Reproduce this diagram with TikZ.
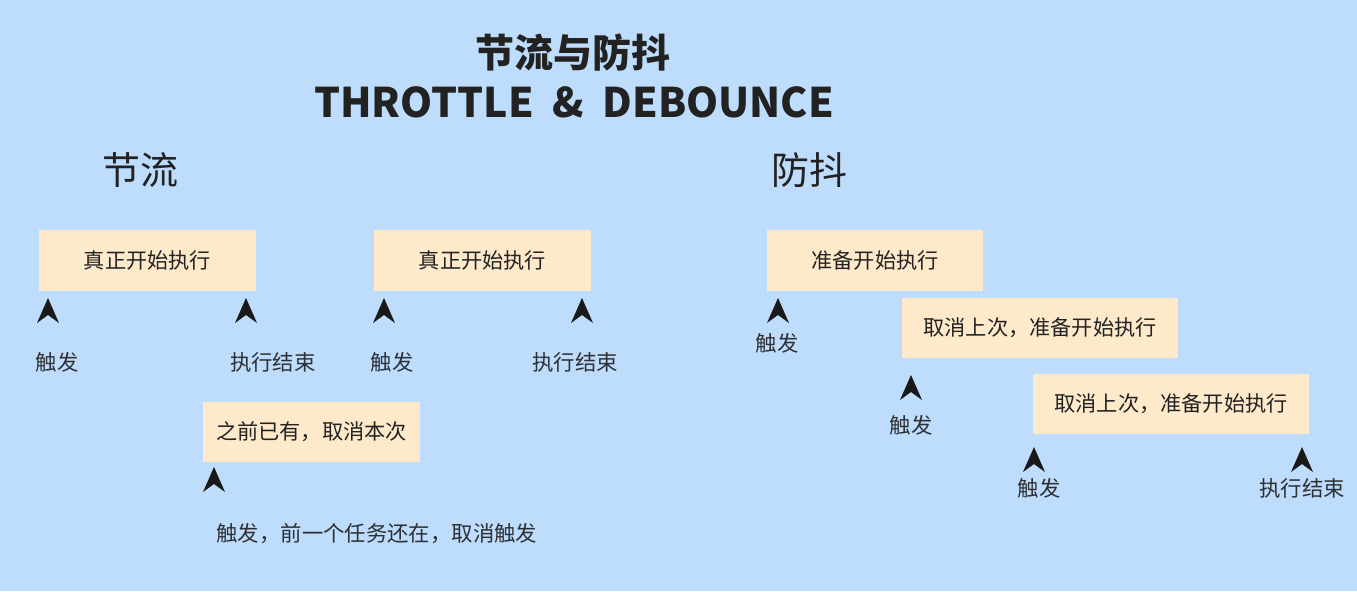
\documentclass[tikz,border=0pt]{standalone}
\usepackage{fontspec}
\setmainfont{Noto Sans CJK SC}
\usepackage{tikz}
\usetikzlibrary{calc}
\definecolor{bgblue}{RGB}{190,220,252}
\definecolor{boxpeach}{RGB}{255,233,203}
\definecolor{txtdark}{RGB}{34,34,34}
\definecolor{lbldark}{RGB}{45,48,52}

\tikzset{
  trig/.pic={\fill[black!90] (0,0) -- (11,25) -- (0,17) -- (-11,25) -- cycle;}
}

\begin{document}
\begin{tikzpicture}[
  x=0.5pt, y=-0.5pt,
  box/.style={fill=boxpeach, inner sep=0pt, minimum height=30.5pt, text=txtdark,
    font=\fontsize{10.6pt}{12pt}\selectfont},
  lbl/.style={inner sep=0pt, text=lbldark, font=\fontsize{10.7pt}{12pt}\selectfont},
  head/.style={inner sep=0pt, text=txtdark, font=\fontsize{19pt}{22pt}\selectfont}
]
% background, fixes the page size
\fill[bgblue] (0,0) rectangle (1357,591);

%========== title ==========
\node[inner sep=0pt, text=txtdark, font=\fontsize{19.5pt}{22pt}\selectfont\bfseries] (title) at (573,52) {节流与防抖};
\node[inner sep=0pt, text=txtdark, font=\fontsize{20.4pt}{24pt}\selectfont\bfseries] (subtitle) at (574,102) {THROTTLE\ \ \&\ \ DEBOUNCE};

%========== throttle ==========
\node[head] (thead) at (140,170) {节流};
\node[box, minimum width=108.5pt] (tbox1) at (147.5,260.5) {真正开始执行};
\node[box, minimum width=108.5pt] (tbox2) at (482.5,260.5) {真正开始执行};
\node[box, minimum width=108.5pt, minimum height=30pt] (tbox3) at (311.5,432) {之前已有，取消本次};
\pic at (48,298) {trig};
\pic at (246,298) {trig};
\pic at (384,298) {trig};
\pic at (582,298) {trig};
\pic at (214,467) {trig};
\node[lbl] (tl1) at (57,362) {触发};
\node[lbl] (tl2) at (273,362) {执行结束};
\node[lbl] (tl3) at (392,362) {触发};
\node[lbl] (tl4) at (575,362) {执行结束};
\node[lbl, anchor=west] (tl5) at (216,534) {触发，前一个任务还在，取消触发};

%========== debounce ==========
\node[head] (dhead) at (809,170) {防抖};
\node[box, minimum width=108pt] (dbox1) at (875,260.5) {准备开始执行};
\node[box, minimum width=138pt, minimum height=30pt] (dbox2) at (1040,328) {取消上次，准备开始执行};
\node[box, minimum width=138pt, minimum height=30pt] (dbox3) at (1171,404) {取消上次，准备开始执行};
\pic at (778,298) {trig};
\pic at (911,375) {trig};
\pic at (1034,447) {trig};
\pic at (1302,447) {trig};
\node[lbl] (dl1) at (777,343) {触发};
\node[lbl] (dl2) at (911,425) {触发};
\node[lbl] (dl3) at (1039,488) {触发};
\node[lbl] (dl4) at (1302,488) {执行结束};
\end{tikzpicture}
\end{document}
